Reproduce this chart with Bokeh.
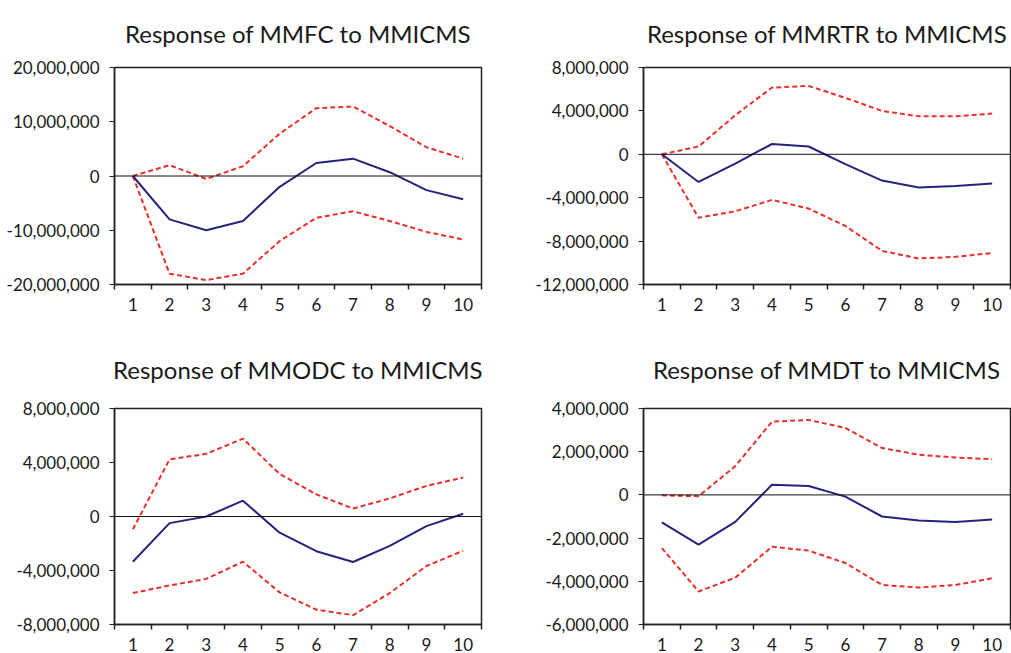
from bokeh.plotting import figure
from bokeh.layouts import gridplot
from bokeh.models import FixedTicker, LinearAxis, NumeralTickFormatter, Span, Range1d
from bokeh.embed import file_html
from bokeh.resources import INLINE

periods = [1, 2, 3, 4, 5, 6, 7, 8, 9, 10]
period_edges = [0.5, 1.5, 2.5, 3.5, 4.5, 5.5, 6.5, 7.5, 8.5, 9.5, 10.5]

# Response of MMFC to MMICMS
mmfc_resp = [0, -8.0e6, -10.0e6, -8.3e6, -2.0e6, 2.4e6, 3.2e6, 0.7e6, -2.6e6, -4.3e6]
mmfc_up = [0, 2.0e6, -0.55e6, 1.8e6, 7.8e6, 12.5e6, 12.8e6, 9.2e6, 5.3e6, 3.2e6]
mmfc_lo = [0, -18.0e6, -19.2e6, -18.0e6, -12.0e6, -7.7e6, -6.5e6, -8.3e6, -10.3e6, -11.7e6]

# Response of MMRTR to MMICMS
mmrtr_resp = [0, -2.55e6, -0.85e6, 0.95e6, 0.72e6, -0.9e6, -2.42e6, -3.05e6, -2.93e6, -2.7e6]
mmrtr_up = [0, 0.72e6, 3.6e6, 6.15e6, 6.3e6, 5.2e6, 4.0e6, 3.5e6, 3.5e6, 3.75e6]
mmrtr_lo = [0, -5.85e6, -5.25e6, -4.2e6, -5.0e6, -6.6e6, -8.9e6, -9.6e6, -9.45e6, -9.1e6]

# Response of MMODC to MMICMS
mmodc_resp = [-3.35e6, -0.49e6, 0.0, 1.17e6, -1.2e6, -2.57e6, -3.37e6, -2.18e6, -0.71e6, 0.2e6]
mmodc_up = [-0.95e6, 4.23e6, 4.64e6, 5.77e6, 3.15e6, 1.64e6, 0.59e6, 1.34e6, 2.27e6, 2.88e6]
mmodc_lo = [-5.67e6, -5.11e6, -4.62e6, -3.35e6, -5.62e6, -6.9e6, -7.31e6, -5.67e6, -3.67e6, -2.54e6]

# Response of MMDT to MMICMS
mmdt_resp = [-1.27e6, -2.3e6, -1.25e6, 0.47e6, 0.41e6, -0.08e6, -1.0e6, -1.19e6, -1.25e6, -1.14e6]
mmdt_up = [-0.02e6, -0.06e6, 1.33e6, 3.39e6, 3.47e6, 3.1e6, 2.17e6, 1.86e6, 1.73e6, 1.65e6]
mmdt_lo = [-2.46e6, -4.47e6, -3.83e6, -2.4e6, -2.58e6, -3.15e6, -4.17e6, -4.29e6, -4.17e6, -3.86e6]

titles = ["Response of MMFC to MMICMS", "Response of MMRTR to MMICMS",
          "Response of MMODC to MMICMS", "Response of MMDT to MMICMS"]
y_ticks = [[-20e6, -10e6, 0, 10e6, 20e6],
           [-12e6, -8e6, -4e6, 0, 4e6, 8e6],
           [-8e6, -4e6, 0, 4e6, 8e6],
           [-6e6, -4e6, -2e6, 0, 2e6, 4e6]]
series = [(mmfc_resp, mmfc_up, mmfc_lo), (mmrtr_resp, mmrtr_up, mmrtr_lo),
          (mmodc_resp, mmodc_up, mmodc_lo), (mmdt_resp, mmdt_up, mmdt_lo)]

FONT = "Lato"
NAVY = "#27237a"
RED = "#e8302a"
INK = "#1a1a1a"

layout_spec = [
    # width, height, left, right, top, bottom, title standoff
    (525, 330, 114, 44, 66, 46, 36),
    (486, 330, 118, 1, 66, 46, 36),
    (525, 323, 114, 44, 78, 26, 46),
    (486, 323, 118, 1, 78, 26, 46),
]

figs = []
for i in range(4):
    w, h, bl, br, bt, bb, so = layout_spec[i]
    yt = y_ticks[i]
    p = figure(width=w, height=h, output_backend="svg", toolbar_location=None,
               x_range=Range1d(0.5, 10.5), y_range=Range1d(min(yt), max(yt)),
               x_axis_location=None, y_axis_location=None,
               min_border_left=bl, min_border_right=br,
               min_border_top=bt, min_border_bottom=bb)
    p.title.text = titles[i]
    p.title.align = "center"
    p.title.vertical_align = "top"
    p.title.text_font = FONT
    p.title.text_font_size = "24px"
    p.title.text_font_style = "normal"
    p.title.text_color = INK
    p.title.standoff = so
    p.grid.visible = False
    p.outline_line_color = "#222222"
    p.outline_line_width = 1.5
    p.background_fill_color = "white"
    p.border_fill_color = "white"

    # y axis
    ya = LinearAxis(ticker=FixedTicker(ticks=yt), formatter=NumeralTickFormatter(format="0,0"))
    ya.major_tick_out = 5
    ya.major_tick_in = 0
    ya.minor_tick_line_color = None
    ya.axis_line_color = "#222222"
    ya.axis_line_width = 1.5
    ya.major_tick_line_color = "#222222"
    ya.major_label_text_font = FONT
    ya.major_label_text_font_size = "17px"
    ya.major_label_text_color = INK
    ya.major_label_standoff = 10
    p.add_layout(ya, "left")

    # x axis: labels at period centres, tick marks at period boundaries
    xa = LinearAxis(ticker=FixedTicker(ticks=periods, minor_ticks=period_edges))
    xa.axis_line_color = "#222222"
    xa.axis_line_width = 1.5
    xa.major_tick_line_color = None
    xa.major_tick_out = 5
    xa.major_tick_in = 0
    xa.minor_tick_line_color = "#222222"
    xa.minor_tick_line_width = 1.5
    xa.minor_tick_out = 5
    xa.minor_tick_in = 0
    xa.major_label_text_font = FONT
    xa.major_label_text_font_size = "17px"
    xa.major_label_text_color = INK
    xa.major_label_standoff = 8
    p.add_layout(xa, "below")

    p.add_layout(Span(location=0, dimension="width", line_color="#111111", line_width=1))

    resp, up, lo = series[i]
    p.line(periods, up, line_color=RED, line_width=2, line_dash="5 3")
    p.line(periods, lo, line_color=RED, line_width=2, line_dash="5 3")
    p.line(periods, resp, line_color=NAVY, line_width=2)
    figs.append(p)

grid = gridplot([[figs[0], figs[1]], [figs[2], figs[3]]], toolbar_location=None)

open("out.html", "w").write(file_html(grid, INLINE))
